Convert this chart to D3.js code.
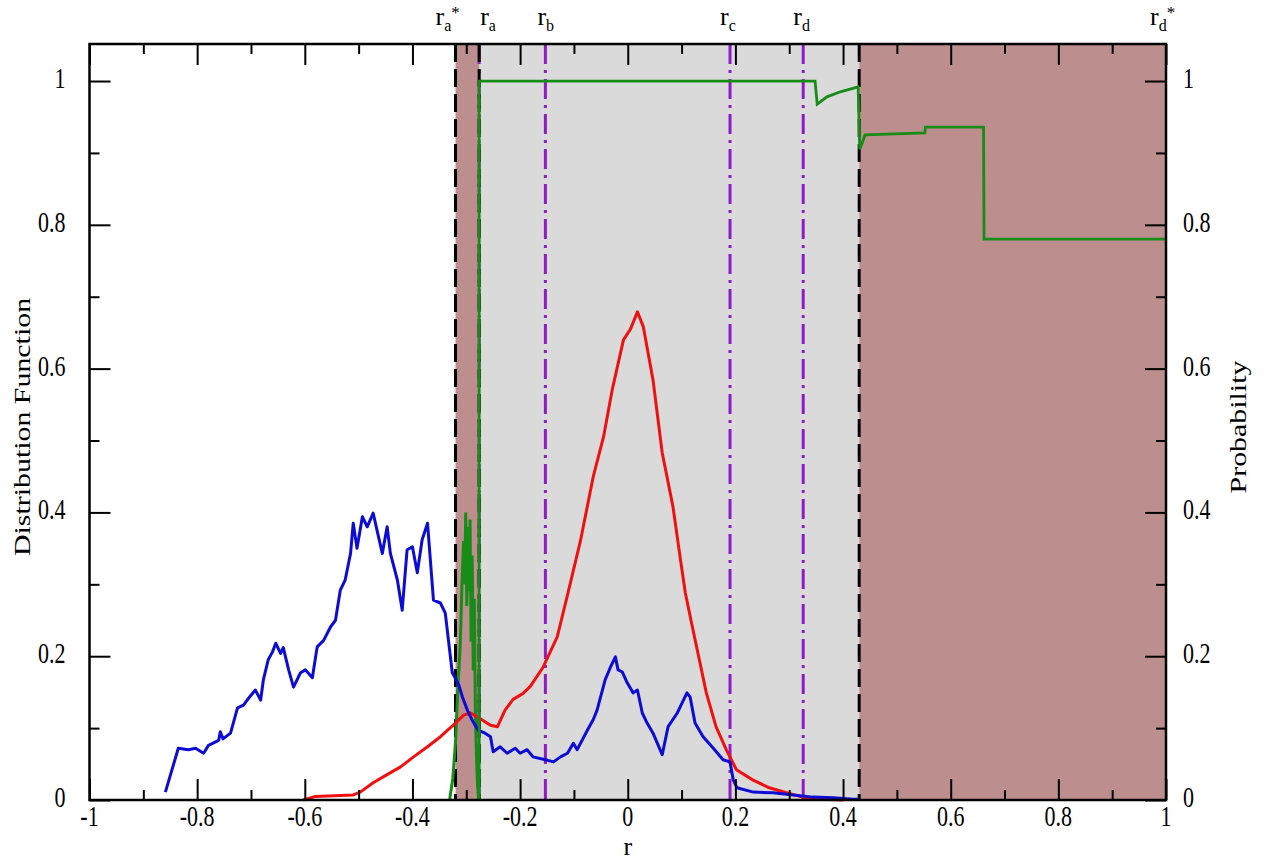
<!DOCTYPE html>
<html>
<head>
<meta charset="utf-8">
<script src="https://cdn.jsdelivr.net/npm/d3@7"></script>
<style>
body { margin: 0; background: #fff; }
text { font-family: "Liberation Serif", "Times New Roman", serif; fill: #000; }
</style>
</head>
<body>
<svg id="chart"></svg>
<script>
const WIDTH = 1266;
const HEIGHT = 863;
const LEFT = 89.5;
const RIGHT = 1166;
const TOP = 44;
const BOTTOM = 800;
const STRETCH = 1.3; // glyphs in the source are tall and narrow

// axis ticks
const xTicks = [-1, -0.8, -0.6, -0.4, -0.2, 0, 0.2, 0.4, 0.6, 0.8, 1];
const xTickLabels = ["-1", "-0.8", "-0.6", "-0.4", "-0.2", "0", "0.2", "0.4", "0.6", "0.8", "1"];
const xMinorTicks = [-0.9, -0.7, -0.5, -0.3, -0.1, 0.1, 0.3, 0.5, 0.7, 0.9];
const yTicks = [0, 0.2, 0.4, 0.6, 0.8, 1];
const yTickLabels = ["0", "0.2", "0.4", "0.6", "0.8", "1"];
const yMinorTicks = [0.1, 0.3, 0.5, 0.7, 0.9];

// regions and marker lines (r values)
const brownBands = [[-0.32, -0.276], [0.43, 1]];
const grayBands = [[-0.276, 0.43]];
const dashedLines = [-0.32, -0.276, 0.43];
const markerLines = [-0.276, -0.153, 0.19, 0.326];
const markerLabels = [
	{ sub: "a", sup: "*", r: -0.32 },
	{ sub: "a", sup: "", r: -0.276 },
	{ sub: "b", sup: "", r: -0.153 },
	{ sub: "c", sup: "", r: 0.19 },
	{ sub: "d", sup: "", r: 0.326 },
	{ sub: "d", sup: "*", r: 1 }
];

// distribution functions [r, value]
const bluePoints = [
	[-0.859, 0.011], [-0.835, 0.072], [-0.816, 0.070], [-0.803, 0.072], [-0.788, 0.065], [-0.779, 0.076],
	[-0.760, 0.083], [-0.757, 0.095], [-0.752, 0.085], [-0.738, 0.093], [-0.725, 0.128], [-0.714, 0.132],
	[-0.707, 0.139], [-0.692, 0.153], [-0.682, 0.139], [-0.677, 0.167], [-0.668, 0.195], [-0.660, 0.206],
	[-0.654, 0.218], [-0.645, 0.204], [-0.640, 0.212], [-0.630, 0.181], [-0.621, 0.157], [-0.608, 0.177],
	[-0.599, 0.181], [-0.586, 0.170], [-0.577, 0.213], [-0.565, 0.222], [-0.552, 0.241], [-0.543, 0.250],
	[-0.534, 0.292], [-0.525, 0.306], [-0.515, 0.343], [-0.510, 0.385], [-0.503, 0.350], [-0.493, 0.394],
	[-0.484, 0.380], [-0.473, 0.399], [-0.463, 0.366], [-0.456, 0.343], [-0.447, 0.380], [-0.441, 0.343],
	[-0.428, 0.306], [-0.419, 0.264], [-0.410, 0.348], [-0.400, 0.352], [-0.391, 0.316], [-0.382, 0.362],
	[-0.372, 0.385], [-0.361, 0.278], [-0.348, 0.274], [-0.339, 0.260], [-0.326, 0.177], [-0.320, 0.169],
	[-0.314, 0.160], [-0.307, 0.143], [-0.298, 0.125], [-0.289, 0.111], [-0.278, 0.097], [-0.265, 0.093],
	[-0.255, 0.088], [-0.250, 0.067], [-0.237, 0.074], [-0.224, 0.065], [-0.209, 0.072], [-0.200, 0.065],
	[-0.187, 0.070], [-0.176, 0.060], [-0.153, 0.056], [-0.138, 0.053], [-0.125, 0.060], [-0.112, 0.065],
	[-0.101, 0.079], [-0.094, 0.070], [-0.075, 0.097], [-0.064, 0.112], [-0.057, 0.125], [-0.042, 0.167],
	[-0.032, 0.185], [-0.023, 0.199], [-0.018, 0.181], [-0.010, 0.178], [-0.001, 0.163], [0.010, 0.149],
	[0.018, 0.153], [0.027, 0.121], [0.036, 0.107], [0.047, 0.093], [0.064, 0.063], [0.075, 0.102],
	[0.092, 0.121], [0.101, 0.135], [0.110, 0.149], [0.116, 0.143], [0.125, 0.107], [0.140, 0.088],
	[0.159, 0.072], [0.177, 0.056], [0.190, 0.053], [0.196, 0.028], [0.203, 0.017], [0.233, 0.011],
	[0.270, 0.010], [0.307, 0.007], [0.344, 0.004], [0.382, 0.003], [0.419, 0.001], [0.430, 0.001]
];
const redPoints = [
	[-0.603, 0.000], [-0.580, 0.005], [-0.510, 0.007], [-0.497, 0.011], [-0.473, 0.024], [-0.448, 0.035],
	[-0.422, 0.046], [-0.398, 0.060], [-0.372, 0.074], [-0.348, 0.088], [-0.320, 0.107], [-0.305, 0.118],
	[-0.292, 0.121], [-0.274, 0.113], [-0.255, 0.104], [-0.242, 0.102], [-0.228, 0.125], [-0.213, 0.140],
	[-0.195, 0.148], [-0.181, 0.158], [-0.157, 0.185], [-0.131, 0.227], [-0.112, 0.285], [-0.088, 0.360],
	[-0.064, 0.450], [-0.045, 0.505], [-0.029, 0.570], [-0.008, 0.640], [0.005, 0.655], [0.018, 0.679],
	[0.029, 0.658], [0.047, 0.584], [0.064, 0.483], [0.084, 0.408], [0.098, 0.334], [0.107, 0.288],
	[0.120, 0.241], [0.133, 0.195], [0.146, 0.149], [0.164, 0.102], [0.183, 0.070], [0.202, 0.042],
	[0.232, 0.028], [0.263, 0.017], [0.295, 0.010], [0.325, 0.004], [0.356, 0.001], [0.400, 0.000]
];
const greenPoints = [
	[-0.331, 0.00], [-0.325, 0.03], [-0.320, 0.08], [-0.316, 0.15], [-0.311, 0.22], [-0.308, 0.30],
	[-0.305, 0.36], [-0.303, 0.30], [-0.301, 0.40], [-0.299, 0.27], [-0.297, 0.38], [-0.295, 0.29],
	[-0.293, 0.39], [-0.291, 0.22], [-0.289, 0.34], [-0.287, 0.18], [-0.285, 0.28], [-0.283, 0.12],
	[-0.281, 0.06], [-0.279, 0.02], [-0.277, 0.00]
];
// probability (right axis)
const probPoints = [
	[-0.276, 0.000], [-0.276, 1.000], [0.348, 1.000], [0.352, 0.968], [0.370, 0.978], [0.395, 0.985],
	[0.428, 0.992], [0.431, 0.905], [0.441, 0.925], [0.552, 0.928], [0.553, 0.936], [0.661, 0.936],
	[0.662, 0.780], [1.000, 0.780]
];

const svg = d3.select("#chart")
	.attr("width", WIDTH)
	.attr("height", HEIGHT);

const xScale = d3.scaleLinear().domain([-1, 1]).range([LEFT, RIGHT]);
const yScale = d3.scaleLinear().domain([0, 1.0515]).range([BOTTOM, TOP]);
const yRight = d3.scaleLinear().domain([0, 1.0515]).range([BOTTOM, TOP]);

// text with the source's vertical stretch
function stretchedText(x, y, str, size, anchor, rotate, stretch) {
	let t = "translate(" + x + "," + y + ") scale(1," + (stretch || STRETCH) + ")";
	if (rotate) t += " rotate(" + rotate + ")";
	return svg.append("text")
		.attr("transform", t)
		.attr("font-size", size)
		.attr("text-anchor", anchor)
		.text(str);
}

// Background bands
svg.selectAll("rect.gray")
	.data(grayBands)
	.enter()
	.append("rect")
	.attr("x", d => xScale(d[0]))
	.attr("width", d => xScale(d[1]) - xScale(d[0]))
	.attr("y", TOP)
	.attr("height", BOTTOM - TOP)
	.attr("fill", "#dadada");
svg.selectAll("rect.brown")
	.data(brownBands)
	.enter()
	.append("rect")
	.attr("x", d => xScale(d[0]))
	.attr("width", d => xScale(d[1]) - xScale(d[0]))
	.attr("y", TOP)
	.attr("height", BOTTOM - TOP)
	.attr("fill", "#bc8e8e");

// Marker lines
svg.selectAll("line.marker")
	.data(markerLines)
	.enter()
	.append("line")
	.attr("x1", d => xScale(d)).attr("x2", d => xScale(d))
	.attr("y1", TOP).attr("y2", BOTTOM)
	.attr("stroke", "#8e1cc6").attr("stroke-width", 3)
	.attr("stroke-dasharray", "20,6,3,6");
svg.selectAll("line.dashed")
	.data(dashedLines)
	.enter()
	.append("line")
	.attr("x1", d => xScale(d)).attr("x2", d => xScale(d))
	.attr("y1", TOP).attr("y2", BOTTOM)
	.attr("stroke", "#000").attr("stroke-width", 3)
	.attr("stroke-dasharray", "18,7");

// Curves
const line = d3.line()
	.x(d => xScale(d[0]))
	.y(d => yScale(d[1]));
const probLine = d3.line()
	.x(d => xScale(d[0]))
	.y(d => yRight(d[1]));

svg.append("path").attr("d", line(greenPoints))
	.attr("fill", "none").attr("stroke", "#178c17").attr("stroke-width", 3);
svg.append("path").attr("d", line(redPoints))
	.attr("fill", "none").attr("stroke", "#f01010").attr("stroke-width", 3)
	.attr("stroke-linejoin", "round");
svg.append("path").attr("d", line(bluePoints))
	.attr("fill", "none").attr("stroke", "#0c0cd6").attr("stroke-width", 3)
	.attr("stroke-linejoin", "round");
svg.append("path").attr("d", probLine(probPoints))
	.attr("fill", "none").attr("stroke", "#178c17").attr("stroke-width", 2.8);

// Ticks on all four sides, pointing inward
function drawTicks(axis, transform, values, size) {
	const g = svg.append("g")
		.attr("transform", transform)
		.call(axis.tickValues(values).tickSize(-size).tickSizeOuter(0).tickFormat(""));
	g.select(".domain").remove();
	g.selectAll("line").attr("stroke", "#000").attr("stroke-width", 2);
}
drawTicks(d3.axisBottom(xScale), "translate(0," + BOTTOM + ")", xTicks, 21);
drawTicks(d3.axisBottom(xScale), "translate(0," + BOTTOM + ")", xMinorTicks, 10);
drawTicks(d3.axisTop(xScale), "translate(0," + TOP + ")", xTicks, 21);
drawTicks(d3.axisTop(xScale), "translate(0," + TOP + ")", xMinorTicks, 10);
drawTicks(d3.axisLeft(yScale), "translate(" + LEFT + ",0)", yTicks, 21);
drawTicks(d3.axisLeft(yScale), "translate(" + LEFT + ",0)", yMinorTicks, 10);
drawTicks(d3.axisRight(yRight), "translate(" + RIGHT + ",0)", yTicks, 21);
drawTicks(d3.axisRight(yRight), "translate(" + RIGHT + ",0)", yMinorTicks, 10);

// Frame
svg.append("rect")
	.attr("x", LEFT).attr("y", TOP)
	.attr("width", RIGHT - LEFT).attr("height", BOTTOM - TOP)
	.attr("fill", "none").attr("stroke", "#000").attr("stroke-width", 2.5);

// Tick labels
xTicks.forEach(function(v, i) {
	stretchedText(xScale(v), 826, xTickLabels[i], 22, "middle");
});
yTicks.forEach(function(v, i) {
	stretchedText(LEFT - 24, yScale(v) + 7, yTickLabels[i], 22, "end");
	stretchedText(RIGHT + 17, yRight(v) + 7, yTickLabels[i], 22, "start");
});

// Axis titles
stretchedText((LEFT + RIGHT) / 2, 855, "r", 26, "middle", 0, 1);
stretchedText(30, (TOP + BOTTOM) / 2 + 5, "Distribution Function", 23, "middle", -90);
stretchedText(1246, (TOP + BOTTOM) / 2 + 5, "Probability", 23, "middle", -90);

// Marker labels above the frame
const labelShift = [-20, 1, -8, -10, -10, -16];
markerLabels.forEach(function(d, i) {
	const t = stretchedText(xScale(d.r) + labelShift[i], 25, "r", 26, "start", 0, 1);
	t.append("tspan").attr("font-size", 16).attr("dy", 6).text(d.sub);
	if (d.sup) {
		t.append("tspan").attr("font-size", 17).attr("dy", -13).text(d.sup);
	}
});
</script>
</body>
</html>
